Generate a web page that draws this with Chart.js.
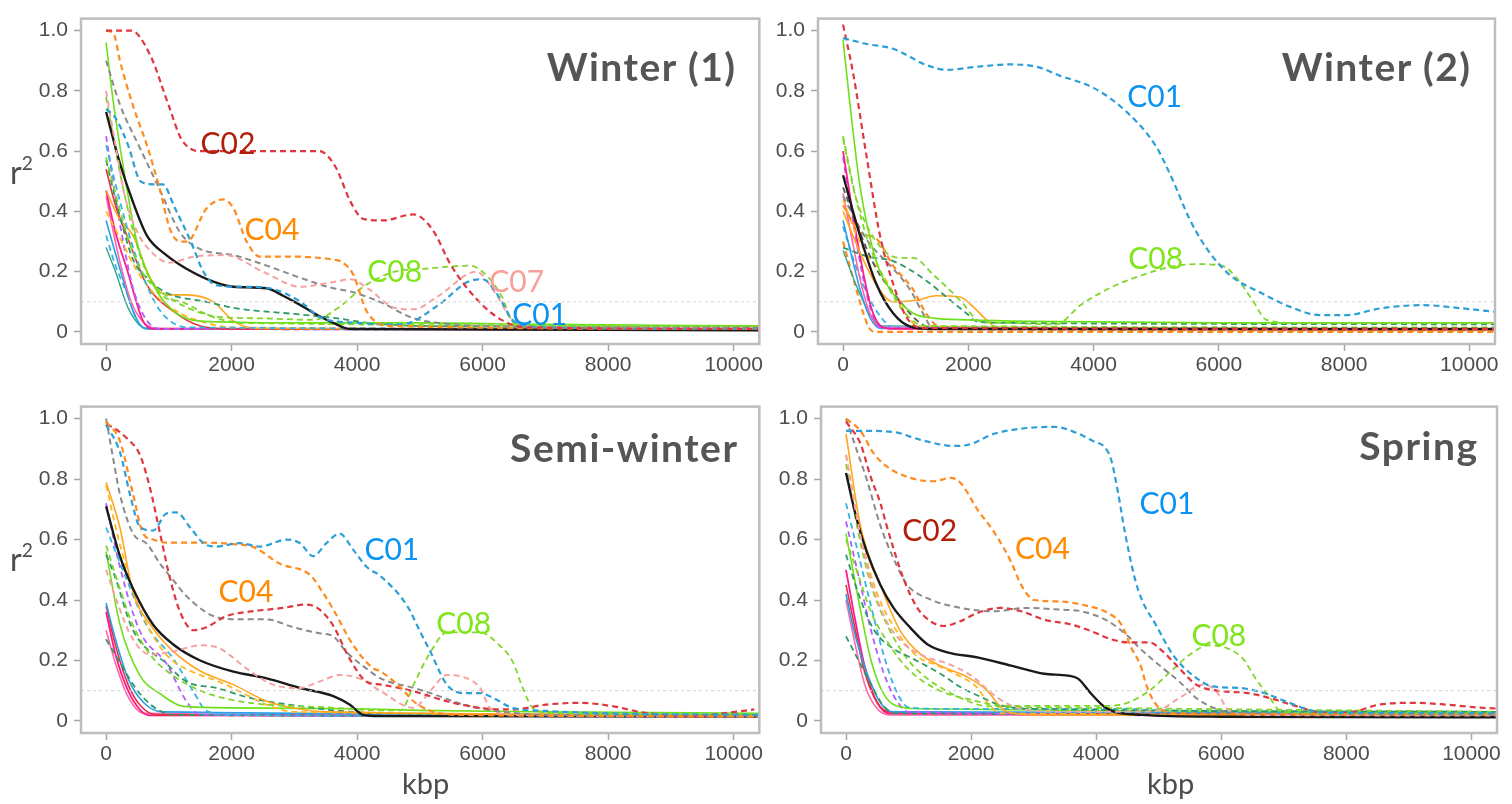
<!DOCTYPE html>
<html>
<head>
<meta charset="utf-8">
<title>LD decay by ecotype</title>
<script src="https://cdn.jsdelivr.net/npm/chart.js@4.4.1/dist/chart.umd.min.js"></script>
<style>
  body{margin:0;background:#fff;width:1512px;height:804px;overflow:hidden;position:relative;font-family:Lato,"Open Sans",sans-serif}
  canvas{position:absolute}
  .title{position:absolute;font-weight:700;font-size:39px;line-height:1;color:#555;white-space:nowrap;letter-spacing:1.5px}
  .lab{position:absolute;font-size:30px;line-height:1;white-space:nowrap;transform:translate(-50%,-50%)}
  .axt{position:absolute;font-size:32px;line-height:1;color:#4d4d4d;white-space:nowrap}
  .axt sup{font-size:0.6em;vertical-align:0.75em;line-height:0}
</style>
</head>
<body>
<canvas id="p1"></canvas>
<canvas id="p2"></canvas>
<canvas id="p3"></canvas>
<canvas id="p4"></canvas>
<script>
// ---- axes ----
const X_TICKS = [0, 2000, 4000, 6000, 8000, 10000];
const Y_TICKS = [0, 0.2, 0.4, 0.6, 0.8, 1.0];
const X_RANGE = [-400, 10410];
const Y_RANGE = [-0.04, 1.04];
const REF_R2 = 0.1;

// ---- Winter (1) : [kbp, r2] ----
const W1_C02 = [[0,1.0],[400,1.0],[700,0.92],[1000,0.75],[1200,0.64],[1500,0.60],[2500,0.60],[3400,0.60],[3650,0.55],[3900,0.43],[4100,0.375],[4400,0.37],[4900,0.39],[5200,0.34],[5500,0.22],[5900,0.11],[6300,0.04],[6700,0.015],[10500,0.01]];
const W1_C04 = [[0,1.0],[120,0.99],[220,0.90],[430,0.75],[650,0.62],[860,0.47],[1020,0.34],[1180,0.30],[1290,0.30],[1600,0.41],[1870,0.44],[2030,0.41],[2240,0.30],[2450,0.25],[3000,0.25],[3620,0.24],[3730,0.235],[3940,0.19],[4150,0.07],[4500,0.02],[10500,0.01]];
const W1_C01 = [[0,0.74],[150,0.71],[350,0.62],[550,0.50],[750,0.49],[900,0.49],[1100,0.41],[1350,0.30],[1550,0.20],[1750,0.155],[2200,0.15],[2600,0.145],[3100,0.10],[3400,0.05],[4000,0.03],[4700,0.025],[5300,0.09],[5750,0.165],[6000,0.175],[6250,0.12],[6500,0.035],[7000,0.015],[10500,0.01]];
const W1_C07 = [[0,0.80],[150,0.62],[300,0.45],[500,0.33],[750,0.26],[1000,0.23],[1400,0.25],[1900,0.255],[2500,0.20],[3100,0.15],[3600,0.165],[3900,0.175],[4200,0.14],[4600,0.08],[4900,0.075],[5300,0.12],[5900,0.20],[6200,0.13],[6500,0.035],[7000,0.015],[10500,0.01]];
const W1_C08 = [[0,0.58],[200,0.42],[400,0.28],[600,0.19],[900,0.13],[1300,0.08],[1800,0.05],[2500,0.045],[3300,0.04],[3700,0.08],[4100,0.15],[4600,0.20],[5100,0.21],[5800,0.22],[6050,0.19],[6300,0.12],[6500,0.03],[7000,0.02],[10500,0.02]];
const W1_GRAY = [[0,0.90],[220,0.755],[540,0.61],[860,0.47],[1180,0.33],[1500,0.275],[2030,0.255],[2560,0.22],[3090,0.18],[3620,0.145],[3880,0.135],[4360,0.10],[4890,0.046],[5300,0.03],[6000,0.02],[10500,0.015]];
const W1_BLACK = [[0,0.73],[220,0.56],[430,0.43],[650,0.32],[960,0.255],[1280,0.21],[1710,0.167],[2030,0.15],[2560,0.145],[2820,0.12],[3090,0.09],[3350,0.058],[3620,0.03],[3880,0.01],[10500,0.005]];
const W1_DKGREEN = [[0,0.57],[200,0.40],[430,0.24],[700,0.17],[960,0.13],[1600,0.10],[2030,0.08],[3090,0.058],[3620,0.047],[4200,0.03],[5000,0.02],[10500,0.015]];
const W1_ORANGE = [[0,0.47],[200,0.38],[430,0.32],[700,0.18],[960,0.123],[1280,0.123],[1710,0.10],[2030,0.036],[2400,0.012],[10500,0.005]];
const W1_RED = [[0,0.54],[150,0.42],[330,0.32],[650,0.156],[1070,0.069],[1500,0.02],[2000,0.01],[10500,0.008]];
const W1_MAGENTA = [[0,0.47],[150,0.33],[330,0.21],[590,0.036],[750,0.01],[10500,0.008]];
const W1_PURPLE = [[0,0.65],[220,0.36],[430,0.145],[700,0.025],[900,0.01],[10500,0.008]];
const W1_BLUE = [[0,0.37],[220,0.21],[430,0.069],[590,0.015],[800,0.01],[10500,0.008]];
const W1_LBLUE = [[0,0.32],[150,0.22],[330,0.13],[540,0.02],[700,0.01],[10500,0.008]];
const W1_GREEN = [[0,0.96],[120,0.755],[280,0.54],[490,0.30],[750,0.157],[1070,0.07],[1500,0.036],[3000,0.03],[5000,0.03],[7000,0.025],[10500,0.02]];
const W1_TEAL = [[0,0.28],[150,0.20],[350,0.08],[550,0.02],[700,0.01],[10500,0.008]];
const W1_YELLOW = [[0,0.40],[250,0.30],[500,0.20],[800,0.12],[1200,0.06],[1600,0.03],[2000,0.015],[10500,0.01]];
const W1_PINK = [[0,0.45],[200,0.25],[400,0.10],[600,0.03],[800,0.012],[10500,0.008]];
const W1_CYAN = [[0,0.62],[200,0.45],[400,0.30],[600,0.18],[800,0.09],[1000,0.04],[1300,0.015],[10500,0.01]];
const W1_LGREEN = [[0,0.78],[200,0.55],[400,0.36],[600,0.22],[900,0.12],[1200,0.10],[1700,0.05],[2200,0.03],[10500,0.02]];

// ---- Winter (2) ----
const W2_C01 = [[0,0.975],[400,0.955],[800,0.94],[1330,0.886],[1650,0.87],[2130,0.88],[2670,0.888],[3090,0.88],[3470,0.85],[4000,0.81],[4530,0.73],[5000,0.615],[5260,0.506],[5530,0.376],[5800,0.279],[6170,0.19],[6700,0.127],[7130,0.084],[7610,0.056],[8040,0.056],[8570,0.078],[9260,0.089],[9900,0.078],[10400,0.067]];
const W2_C08 = [[0,0.64],[200,0.45],[530,0.30],[900,0.246],[1120,0.246],[1440,0.19],[1870,0.105],[2190,0.035],[2600,0.03],[3400,0.025],[3800,0.09],[4300,0.15],[4800,0.19],[5200,0.215],[5650,0.225],[6050,0.22],[6280,0.18],[6540,0.105],[6760,0.04],[7200,0.03],[10500,0.03]];
const W2_RED = [[0,1.02],[160,0.86],[370,0.59],[590,0.32],[800,0.16],[1010,0.05],[1250,0.013],[10500,0.01]];
const W2_GREEN = [[0,0.97],[110,0.756],[270,0.485],[530,0.235],[800,0.127],[1120,0.062],[1440,0.046],[2000,0.04],[3000,0.035],[6000,0.03],[10500,0.03]];
const W2_BLACK = [[0,0.52],[270,0.32],[530,0.16],[800,0.062],[1070,0.018],[1400,0.01],[10500,0.01]];
const W2_BLACKD = [[0,0.48],[270,0.33],[530,0.21],[900,0.105],[1170,0.04],[1440,0.012],[10500,0.01]];
const W2_GRAY = [[0,0.45],[400,0.30],[800,0.21],[1070,0.14],[1280,0.06],[1440,0.012],[10500,0.01]];
const W2_ORANGED = [[0,0.42],[270,0.33],[530,0.31],[800,0.22],[1120,0.14],[1330,0.06],[1600,0.01],[10500,0.005]];
const W2_ORANGE = [[0,0.40],[300,0.25],[550,0.15],[800,0.10],[1170,0.105],[1490,0.12],[1870,0.116],[2080,0.083],[2290,0.04],[2500,0.01],[10500,0.008]];
const W2_DKGREEN = [[0,0.28],[400,0.25],[800,0.235],[1330,0.17],[1650,0.116],[1970,0.062],[2130,0.035],[2600,0.03],[10500,0.025]];
const W2_MAGENTA = [[0,0.60],[150,0.40],[300,0.22],[450,0.08],[600,0.02],[800,0.01],[10500,0.008]];
const W2_PURPLE = [[0,0.58],[150,0.38],[300,0.20],[450,0.07],[600,0.015],[10500,0.01]];
const W2_BLUE = [[0,0.37],[150,0.24],[300,0.12],[450,0.04],[600,0.012],[10500,0.01]];
const W2_PINK = [[0,0.46],[150,0.30],[300,0.15],[450,0.05],[600,0.015],[10500,0.01]];
const W2_TEAL = [[0,0.27],[200,0.16],[400,0.07],[600,0.02],[10500,0.01]];
const W2_LGREEN = [[0,0.65],[200,0.45],[400,0.30],[600,0.20],[800,0.12],[1000,0.06],[1300,0.02],[10500,0.015]];
const W2_CYAN = [[0,0.35],[200,0.22],[400,0.12],[600,0.05],[800,0.015],[10500,0.01]];
const W2_YELLOW = [[0,0.44],[200,0.33],[400,0.25],[600,0.20],[800,0.13],[1000,0.06],[1200,0.02],[10500,0.01]];
const W2_ORANGE0 = [[0,0.30],[200,0.15],[400,0.02],[500,0.0],[10500,0.0]];

// ---- Semi-winter ----
const SW_C01 = [[0,0.98],[220,0.89],[380,0.75],[540,0.642],[750,0.63],[960,0.686],[1120,0.69],[1340,0.64],[1550,0.588],[1760,0.577],[2130,0.588],[2450,0.577],[2880,0.60],[3090,0.588],[3300,0.545],[3510,0.588],[3720,0.62],[3940,0.566],[4150,0.51],[4380,0.478],[4800,0.38],[5010,0.293],[5170,0.228],[5430,0.12],[5700,0.092],[5960,0.092],[6170,0.076],[6480,0.043],[7010,0.033],[8000,0.025],[10500,0.02]];
const SW_C04 = [[0,0.99],[220,0.926],[430,0.75],[590,0.62],[750,0.60],[960,0.59],[1500,0.59],[2030,0.585],[2350,0.575],[2770,0.52],[3250,0.483],[3460,0.423],[3620,0.369],[3940,0.25],[4250,0.175],[4380,0.163],[4700,0.109],[4900,0.065],[5170,0.033],[5600,0.02],[10500,0.015]];
const SW_C02 = [[0,0.98],[120,0.97],[330,0.935],[540,0.88],[700,0.77],[860,0.62],[1020,0.47],[1180,0.36],[1390,0.30],[1600,0.31],[1920,0.347],[2350,0.363],[2820,0.374],[3190,0.385],[3400,0.369],[3620,0.315],[3880,0.206],[4150,0.13],[4380,0.12],[4900,0.098],[5430,0.065],[5960,0.043],[6480,0.038],[7010,0.054],[7540,0.06],[8060,0.049],[8590,0.027],[9380,0.016],[9900,0.027],[10330,0.038]];
const SW_GRAY = [[0,1.0],[120,0.86],[220,0.75],[430,0.62],[650,0.586],[860,0.52],[1070,0.466],[1280,0.413],[1710,0.347],[2130,0.336],[2560,0.336],[2980,0.31],[3400,0.29],[3620,0.28],[3830,0.228],[4150,0.173],[4380,0.14],[4900,0.109],[5170,0.092],[5700,0.054],[6220,0.033],[7000,0.02],[10500,0.018]];
const SW_C07 = [[0,0.50],[200,0.38],[400,0.28],[700,0.22],[1070,0.23],[1500,0.25],[1810,0.24],[2240,0.173],[2660,0.12],[3090,0.109],[3400,0.13],[3720,0.152],[4040,0.14],[4380,0.098],[4900,0.043],[5170,0.10],[5430,0.152],[5750,0.141],[5960,0.109],[6120,0.043],[6500,0.02],[10500,0.015]];
const SW_C08 = [[0,0.58],[200,0.45],[400,0.33],[700,0.22],[1000,0.16],[1500,0.10],[2000,0.07],[2500,0.055],[3500,0.045],[4400,0.035],[4700,0.035],[4900,0.12],[5170,0.228],[5430,0.293],[5960,0.293],[6270,0.25],[6480,0.196],[6640,0.109],[6800,0.043],[7200,0.025],[10500,0.02]];
const SW_BLACK = [[0,0.71],[220,0.545],[430,0.437],[750,0.318],[1070,0.253],[1500,0.20],[2030,0.163],[2560,0.141],[3090,0.109],[3620,0.082],[3880,0.054],[4100,0.02],[4360,0.016],[10500,0.015]];
const SW_ORANGE = [[0,0.79],[220,0.64],[430,0.425],[700,0.32],[1070,0.23],[1500,0.165],[2030,0.12],[2560,0.065],[2980,0.043],[3500,0.03],[10500,0.02]];
const SW_PURPLE = [[0,0.72],[220,0.51],[540,0.296],[960,0.19],[1280,0.065],[1500,0.02],[10500,0.015]];
const SW_CYAN = [[0,0.64],[330,0.466],[650,0.315],[1070,0.206],[1390,0.098],[1600,0.033],[2000,0.02],[10500,0.015]];
const SW_DKGREEN = [[0,0.55],[120,0.49],[430,0.30],[960,0.19],[1280,0.13],[1760,0.109],[2290,0.076],[2560,0.065],[3090,0.049],[3620,0.035],[4500,0.025],[10500,0.02]];
const SW_GREEN = [[0,0.56],[220,0.32],[540,0.15],[860,0.09],[1230,0.048],[2030,0.043],[4000,0.04],[5000,0.035],[7000,0.03],[10500,0.025]];
const SW_TEAL = [[0,0.27],[200,0.20],[500,0.10],[800,0.04],[1100,0.02],[10500,0.015]];
const SW_RED = [[0,0.38],[150,0.25],[350,0.12],[550,0.05],[800,0.02],[10500,0.015]];
const SW_MAGENTA = [[0,0.36],[150,0.22],[350,0.10],[550,0.035],[700,0.018],[10500,0.015]];
const SW_BLUE = [[0,0.39],[150,0.27],[350,0.14],[600,0.06],[900,0.03],[10500,0.02]];
const SW_PINK = [[0,0.30],[150,0.19],[350,0.08],[600,0.025],[10500,0.015]];
const SW_YELLOW = [[0,0.78],[200,0.60],[450,0.42],[700,0.30],[1000,0.21],[1400,0.16],[1800,0.13],[2200,0.09],[2600,0.05],[3000,0.03],[10500,0.02]];

// ---- Spring ----
const SP_C01 = [[0,0.96],[230,0.96],[760,0.956],[1190,0.93],[1720,0.91],[1940,0.913],[2370,0.95],[2800,0.967],[3330,0.973],[3710,0.951],[3970,0.924],[4130,0.907],[4240,0.864],[4350,0.755],[4460,0.624],[4620,0.47],[4720,0.406],[4960,0.316],[5230,0.218],[5600,0.142],[5870,0.114],[6290,0.109],[6670,0.093],[7090,0.06],[7470,0.033],[7840,0.027],[10500,0.025]];
const SP_C04 = [[0,1.0],[230,0.96],[440,0.886],[650,0.842],[1030,0.804],[1400,0.793],[1670,0.804],[1830,0.788],[2100,0.70],[2370,0.624],[2640,0.526],[2800,0.45],[3010,0.40],[3440,0.395],[3760,0.385],[4190,0.357],[4400,0.32],[4560,0.243],[4720,0.178],[4800,0.12],[4960,0.054],[5300,0.025],[10500,0.022]];
const SP_C02 = [[0,0.99],[230,0.918],[390,0.81],[550,0.72],[650,0.646],[760,0.57],[920,0.47],[1140,0.374],[1350,0.33],[1560,0.314],[1830,0.33],[2100,0.357],[2470,0.374],[2800,0.363],[3170,0.335],[3600,0.319],[3920,0.297],[4240,0.27],[4510,0.26],[4850,0.26],[5070,0.229],[5330,0.174],[5600,0.12],[6030,0.098],[6400,0.093],[6770,0.076],[7200,0.049],[7630,0.027],[8000,0.027],[8530,0.054],[9070,0.06],[9600,0.054],[10130,0.044],[10500,0.04]];
const SP_GRAY = [[0,1.0],[170,0.897],[330,0.80],[550,0.646],[760,0.537],[980,0.45],[1300,0.406],[1830,0.374],[2370,0.363],[2900,0.374],[3440,0.368],[3760,0.363],[4190,0.33],[4510,0.28],[4700,0.24],[5070,0.174],[5330,0.13],[5600,0.076],[5870,0.044],[6200,0.025],[10500,0.02]];
const SP_C08 = [[0,0.60],[200,0.48],[400,0.36],[700,0.25],[1000,0.17],[1500,0.10],[2000,0.07],[2500,0.05],[3500,0.05],[4200,0.05],[4500,0.06],[4850,0.10],[5200,0.165],[5500,0.22],[5800,0.25],[6100,0.24],[6350,0.205],[6550,0.14],[6750,0.085],[6950,0.033],[7500,0.025],[10500,0.025]];
const SP_C07 = [[0,0.88],[150,0.70],[350,0.50],[600,0.35],[900,0.26],[1300,0.21],[1620,0.19],[2000,0.15],[2400,0.08],[2800,0.04],[3500,0.03],[4500,0.03],[4960,0.033],[5330,0.076],[5710,0.12],[5920,0.098],[6130,0.033],[6500,0.02],[10500,0.018]];
const SP_BLACK = [[0,0.82],[170,0.668],[330,0.56],[550,0.45],[760,0.374],[1030,0.308],[1300,0.254],[1620,0.227],[2100,0.21],[2640,0.183],[3170,0.156],[3550,0.15],[3710,0.14],[3920,0.09],[4130,0.047],[4300,0.03],[4720,0.02],[6000,0.014],[10500,0.012]];
const SP_YELLOW = [[0,0.95],[230,0.646],[550,0.45],[870,0.297],[1190,0.221],[1560,0.178],[1940,0.145],[2260,0.10],[2420,0.058],[2580,0.03],[3000,0.02],[10500,0.018]];
const SP_DKGREEN = [[0,0.55],[200,0.42],[450,0.30],[750,0.24],[1030,0.21],[1510,0.156],[1830,0.112],[2150,0.08],[2470,0.052],[3000,0.04],[10500,0.03]];
const SP_TEAL = [[0,0.28],[200,0.20],[400,0.12],[600,0.05],[800,0.025],[10500,0.02]];
const SP_CYAN = [[0,0.72],[200,0.55],[400,0.38],[600,0.22],[800,0.10],[1000,0.045],[1500,0.04],[3000,0.04],[4500,0.04],[5000,0.035],[10500,0.03]];
const SP_PURPLE = [[0,0.66],[200,0.48],[400,0.30],[600,0.16],[800,0.07],[1000,0.03],[10500,0.015]];
const SP_LGREEN = [[0,0.85],[200,0.62],[400,0.45],[700,0.30],[1000,0.20],[1300,0.14],[1600,0.10],[1900,0.07],[2200,0.05],[3000,0.045],[10500,0.03]];
const SP_ORANGE = [[0,0.88],[250,0.60],[500,0.42],[800,0.30],[1100,0.22],[1500,0.18],[1800,0.15],[2100,0.11],[2300,0.05],[2500,0.025],[10500,0.02]];
const SP_MAGENTA = [[0,0.50],[150,0.33],[300,0.18],[500,0.06],[700,0.025],[10500,0.02]];
const SP_RED = [[0,0.45],[150,0.30],[300,0.16],[500,0.06],[700,0.03],[10500,0.02]];
const SP_BLUE = [[0,0.42],[150,0.28],[350,0.15],[550,0.06],[750,0.03],[10500,0.025]];
const SP_PINK = [[0,0.40],[150,0.25],[300,0.12],[500,0.04],[700,0.02],[10500,0.018]];
const SP_GREEN = [[0,0.62],[200,0.40],[400,0.20],[600,0.09],[800,0.05],[1200,0.04],[10500,0.03]];

// ---- curve labels (text, kbp, r2) ----
const W1_LAB = ['C02', 'C04', 'C08', 'C07', 'C01'];
const W1_LAB_X = [1942, 2643, 4600, 6542, 6910];
const W1_LAB_Y = [0.631, 0.346, 0.206, 0.173, 0.062];
const W2_LAB = ['C01', 'C08'];
const W2_LAB_X = [4976, 4992];
const W2_LAB_Y = [0.788, 0.248];
const SW_LAB = ['C01', 'C04', 'C08'];
const SW_LAB_X = [4553, 2229, 5699];
const SW_LAB_Y = [0.571, 0.432, 0.328];
const SP_LAB = ['C02', 'C04', 'C01', 'C08'];
const SP_LAB_X = [1339, 3140, 5133, 5962];
const SP_LAB_Y = [0.634, 0.575, 0.725, 0.288];

// ---- styles ----
const DASH = [6, 4];
const STY = {
  redD:    {c:'#e0363e', w:2.2, d:DASH},
  orangeD: {c:'#ff8a1e', w:2.2, d:DASH},
  grayD:   {c:'#8a8a8a', w:2,   d:DASH},
  blueD:   {c:'#2c9fd6', w:2.2, d:DASH},
  pinkD:   {c:'#f4a2a2', w:2,   d:DASH},
  greenD:  {c:'#80d62b', w:1.8, d:DASH},
  dkgreenD:{c:'#2f9a66', w:1.8, d:DASH},
  cyanD:   {c:'#33b5e5', w:1.8, d:DASH},
  purpleD: {c:'#b35cff', w:1.8, d:DASH},
  yellowD: {c:'#ffb822', w:1.8, d:DASH},
  blackD:  {c:'#555555', w:1.8, d:DASH},
  black:   {c:'#1a1a1a', w:2.4, d:[]},
  green:   {c:'#6ee01a', w:1.6, d:[]},
  orange:  {c:'#ffa51f', w:1.6, d:[]},
  red:     {c:'#e8303a', w:1.6, d:[]},
  magenta: {c:'#ff1a8c', w:1.8, d:[]},
  blue:    {c:'#2a9ee8', w:1.6, d:[]},
  pink:    {c:'#ff66aa', w:1.6, d:[]},
  teal:    {c:'#2aa88a', w:1.4, d:[]},
  purple:  {c:'#9b4dff', w:1.6, d:[]}
};
const LAB_COLOR = {C01:'#0a93f2', C02:'#b01d08', C04:'#ff8a00', C07:'#f7a099', C08:'#7fe61a'};

// series listed back -> front
const PANELS = [
  {id:'p1', left:0, top:0, w:765, h:380, axisW:81, padR:5,
   title:'Winter (1)', titleRight:735, titleBase:82,
   series:[[W1_TEAL,'teal'],[W1_LBLUE,'cyanD'],[W1_BLUE,'blue'],[W1_PINK,'pink'],[W1_MAGENTA,'magenta'],[W1_PURPLE,'purpleD'],
           [W1_RED,'red'],[W1_YELLOW,'yellowD'],[W1_ORANGE,'orange'],[W1_CYAN,'cyanD'],[W1_DKGREEN,'dkgreenD'],[W1_LGREEN,'greenD'],
           [W1_GREEN,'green'],[W1_BLACK,'black'],[W1_GRAY,'grayD'],[W1_C07,'pinkD'],[W1_C08,'greenD'],[W1_C01,'blueD'],
           [W1_C04,'orangeD'],[W1_C02,'redD']],
   lab:[W1_LAB, W1_LAB_X, W1_LAB_Y]},
  {id:'p2', left:760, top:0, w:752, h:380, axisW:58, padR:17,
   title:'Winter (2)', titleRight:1470, titleBase:82,
   series:[[W2_ORANGE0,'orangeD'],[W2_TEAL,'teal'],[W2_CYAN,'cyanD'],[W2_BLUE,'blue'],[W2_PINK,'pink'],[W2_PURPLE,'purpleD'],
           [W2_MAGENTA,'magenta'],[W2_YELLOW,'yellowD'],[W2_ORANGE,'orange'],[W2_ORANGED,'orangeD'],[W2_GRAY,'grayD'],
           [W2_BLACKD,'blackD'],[W2_DKGREEN,'dkgreenD'],[W2_LGREEN,'greenD'],[W2_BLACK,'black'],[W2_GREEN,'green'],
           [W2_RED,'redD'],[W2_C08,'greenD'],[W2_C01,'blueD']],
   lab:[W2_LAB, W2_LAB_X, W2_LAB_Y]},
  {id:'p3', left:0, top:388, w:765, h:381, axisW:81, padR:5,
   title:'Semi-winter', titleRight:737, titleBase:463,
   series:[[SW_PINK,'pink'],[SW_MAGENTA,'magenta'],[SW_RED,'red'],[SW_BLUE,'blue'],[SW_TEAL,'dkgreenD'],[SW_PURPLE,'purpleD'],
           [SW_CYAN,'cyanD'],[SW_GREEN,'green'],[SW_DKGREEN,'dkgreenD'],[SW_YELLOW,'yellowD'],[SW_ORANGE,'orange'],
           [SW_BLACK,'black'],[SW_C07,'pinkD'],[SW_C08,'greenD'],[SW_GRAY,'grayD'],[SW_C02,'redD'],[SW_C04,'orangeD'],[SW_C01,'blueD']],
   lab:[SW_LAB, SW_LAB_X, SW_LAB_Y]},
  {id:'p4', left:760, top:388, w:752, h:381, axisW:61, padR:15,
   title:'Spring', titleRight:1477, titleBase:461,
   series:[[SP_PINK,'pink'],[SP_MAGENTA,'magenta'],[SP_RED,'red'],[SP_BLUE,'blue'],[SP_TEAL,'dkgreenD'],[SP_PURPLE,'purpleD'],
           [SP_GREEN,'green'],[SP_CYAN,'cyanD'],[SP_LGREEN,'greenD'],[SP_DKGREEN,'dkgreenD'],[SP_ORANGE,'yellowD'],
           [SP_YELLOW,'orange'],[SP_BLACK,'black'],[SP_C07,'pinkD'],[SP_C08,'greenD'],[SP_GRAY,'grayD'],[SP_C02,'redD'],
           [SP_C04,'orangeD'],[SP_C01,'blueD']],
   lab:[SP_LAB, SP_LAB_X, SP_LAB_Y]}
];

// grey frame round the plot area
const framePlugin = {
  id:'frame',
  afterDraw(chart){
    const a = chart.chartArea, ctx = chart.ctx;
    ctx.save();
    ctx.strokeStyle = '#bdbdbd';
    ctx.lineWidth = 2.5;
    ctx.strokeRect(a.left, a.top, a.right - a.left, a.bottom - a.top);
    ctx.restore();
  }
};

function addDiv(cls, html, css){
  const d = document.createElement('div');
  d.className = cls;
  d.innerHTML = html;
  Object.assign(d.style, css);
  document.body.appendChild(d);
  return d;
}

function build(p){
  const cv = document.getElementById(p.id);
  cv.width = p.w; cv.height = p.h;
  cv.style.left = p.left + 'px'; cv.style.top = p.top + 'px';

  const datasets = p.series.map(([pts, key]) => ({
    data: pts.map(([x, y]) => ({x, y})),
    borderColor: STY[key].c,
    borderWidth: STY[key].w,
    borderDash: STY[key].d,
    pointRadius: 0,
    fill: false,
    cubicInterpolationMode: 'monotone'
  }));
  // faint r2 = 0.1 reference
  datasets.push({data:[{x:X_RANGE[0], y:REF_R2}, {x:X_RANGE[1], y:REF_R2}], borderColor:'#d4d4d4', borderWidth:1, borderDash:[3,3], pointRadius:0});
  datasets.reverse(); // first dataset is painted last

  const tickFont = {family:'"Liberation Sans", Arial, sans-serif', size:21};
  const grid = {drawOnChartArea:false, drawTicks:true, tickLength:7, tickColor:'#a6a6a6', tickWidth:1.5};

  const chart = new Chart(cv, {
    type:'line',
    data:{datasets},
    options:{
      responsive:false, animation:false, events:[],
      layout:{padding:{top:13, right:p.padR, left:0, bottom:0}},
      plugins:{legend:{display:false}, tooltip:{enabled:false}},
      scales:{
        x:{type:'linear', min:X_RANGE[0], max:X_RANGE[1],
           afterBuildTicks: s => { s.ticks = X_TICKS.map(v => ({value:v})); },
           afterFit: s => { s.height = 36; },
           grid, border:{display:false},
           ticks:{font:tickFont, color:'#4d4d4d', padding:2, maxRotation:0, autoSkip:false, callback:v => String(v)}},
        y:{type:'linear', min:Y_RANGE[0], max:Y_RANGE[1],
           afterBuildTicks: s => { s.ticks = Y_TICKS.map(v => ({value:v})); },
           afterFit: s => { s.width = p.axisW; },
           grid, border:{display:false},
           ticks:{font:tickFont, color:'#4d4d4d', padding:6, autoSkip:false, callback:v => v === 0 ? '0' : v.toFixed(1)}}
      }
    },
    plugins:[framePlugin]
  });

  // title, top right (letter-spacing leaves a trailing gap, so shift by it)
  addDiv('title', p.title, {right:(1512 - p.titleRight - 1.5) + 'px', top:(p.titleBase - 34.6) + 'px'});

  // curve labels placed at data coordinates
  const [txt, xs, ys] = p.lab;
  txt.forEach((t, i) => {
    const px = p.left + chart.scales.x.getPixelForValue(xs[i]);
    const py = p.top + chart.scales.y.getPixelForValue(ys[i]);
    addDiv('lab', t, {left:px + 'px', top:py + 'px', color:LAB_COLOR[t]});
  });
}

PANELS.forEach(build);

// axis titles
addDiv('axt', 'r<sup>2</sup>', {left:'10px', top:'156px'});
addDiv('axt', 'r<sup>2</sup>', {left:'10px', top:'543px'});
addDiv('axt', 'kbp', {left:'402px', top:'768px', fontSize:'29px'});
addDiv('axt', 'kbp', {left:'1147px', top:'768px', fontSize:'29px'});
</script>
</body>
</html>
